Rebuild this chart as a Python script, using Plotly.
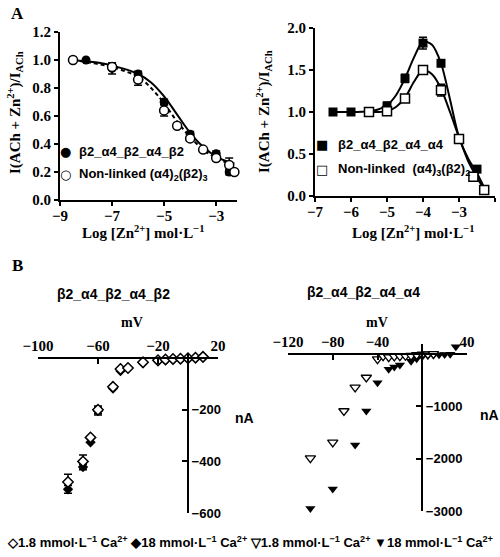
import plotly.graph_objects as go

W, H = 500, 557
SERIF = "Liberation Serif"
SANS = "Liberation Sans"

# ---------------- Panel A (left): concentration-response ----------------
a1_filled_x = [-8, -7, -6, -5, -4, -3, -2.5]
a1_filled_y = [1.00, 0.94, 0.90, 0.70, 0.47, 0.33, 0.20]
a1_filled_err = [0, 0.04, 0.02, 0.02, 0.02, 0.02, 0.02]
a1_open_x = [-8.5, -7, -6, -5, -4.5, -4, -3.5, -3, -2.5, -2.3]
a1_open_y = [1.00, 0.95, 0.86, 0.64, 0.53, 0.44, 0.36, 0.30, 0.25, 0.20]
a1_open_err = [0, 0.02, 0.04, 0.04, 0, 0.02, 0, 0.02, 0.05, 0]
a1_fit_x = [-8.5, -8, -7.5, -7, -6.5, -6, -5.5, -5, -4.5, -4, -3.5, -3, -2.5, -2.3]
a1_fit_filled = [1.0, 0.99, 0.98, 0.96, 0.935, 0.90, 0.84, 0.74, 0.61, 0.48, 0.38, 0.31, 0.27, 0.26]
a1_fit_open = [1.0, 0.985, 0.97, 0.95, 0.92, 0.88, 0.80, 0.69, 0.56, 0.45, 0.36, 0.30, 0.26, 0.25]

# ---------------- Panel A (right) ----------------
a2_filled_x = [-6.5, -6, -5, -4.5, -4, -3.5, -3, -2.5]
a2_filled_y = [1.00, 1.00, 1.07, 1.40, 1.82, 1.58, 0.68, 0.32]
a2_filled_err = [0, 0, 0.05, 0.05, 0.07, 0.03, 0.03, 0.02]
a2_open_x = [-5.5, -5, -4.5, -4, -3.5, -3, -2.6, -2.3]
a2_open_y = [1.00, 1.01, 1.16, 1.50, 1.26, 0.68, 0.23, 0.07]
a2_open_err = [0, 0, 0, 0.02, 0.07, 0, 0, 0]
a2_fit_filled_x = [-6.5, -6, -5.5, -5.25, -5, -4.75, -4.5, -4.25, -4, -3.75, -3.5, -3.25, -3, -2.75, -2.5, -2.3]
a2_fit_filled = [1.0, 1.0, 1.01, 1.03, 1.08, 1.20, 1.40, 1.65, 1.84, 1.80, 1.58, 1.15, 0.70, 0.45, 0.27, 0.10]
a2_fit_open_x = [-5.5, -5.25, -5, -4.75, -4.5, -4.25, -4, -3.75, -3.5, -3.25, -3, -2.75, -2.5, -2.3]
a2_fit_open = [1.0, 1.0, 1.01, 1.06, 1.17, 1.36, 1.50, 1.45, 1.28, 1.00, 0.70, 0.42, 0.22, 0.08]

# ---------------- Panel B (left): I-V ----------------
b1_open_x = [-80, -70, -65, -60, -50, -45, -40, -30, -20, -15, -10, -5, 0, 5, 10]
b1_open_y = [-480, -400, -307, -200, -111, -42, -38, -16, -8, -5, -3, -2, 0, 2, 5]
b1_open_err = [30, 25, 0, 15, 0, 0, 0, 0, 0, 0, 0, 0, 0, 0, 0]
b1_filled_x = [-80, -70, -65, -60, -50, -45, -30, -20, -15, -10, -5, 0, 5, 10]
b1_filled_y = [-508, -422, -326, -205, -118, -50, -20, -12, -8, -5, -3, 0, 2, 5]
b1_filled_err = [15, 10, 0, 15, 0, 0, 0, 0, 0, 0, 0, 0, 0, 0]

# ---------------- Panel B (right) ----------------
b2_open_x = [-100, -80, -70, -60, -50, -40, -35, -30, -25, -20, -15, -10, -5, 0, 5, 10]
b2_open_y = [-1990, -1690, -1090, -640, -450, -100, -40, -60, -45, -40, -35, -30, -20, -10, -5, 0]
b2_filled_x = [-100, -80, -60, -50, -40, -30, -25, -20, -10, -5, 0, 5, 10, 15, 20, 25, 30, 40]
b2_filled_y = [-2950, -2580, -1740, -1090, -550, -290, -250, -210, -140, -90, -50, -30, -20, -15, -10, -5, 140, 215]

# tick values
a1_xticks = [-9, -7, -5, -3]
a1_yticks = [0.0, 0.2, 0.4, 0.6, 0.8, 1.0, 1.2]
a2_xticks = [-7, -6, -5, -4, -3, -2]
a2_yticks = [0.0, 0.5, 1.0, 1.5, 2.0]
b1_xticks = [-100, -60, -20, 20]
b1_yticks = [-200, -400, -600]
b2_xticks = [-120, -80, -40, 40]
b2_yticks = [-1000, -2000, -3000]

# legend labels
a1_names = ["β2_α4_β2_α4_β2", "Non-linked (α4)<sub>2</sub>(β2)<sub>3</sub>"]
a2_names = ["β2_α4_β2_α4_α4", "Non-linked  (α4)<sub>3</sub>(β2)<sub>2</sub>"]
b_legend = ("◇1.8 mmol·L<sup>−1</sup> Ca<sup>2+</sup> ◆18 mmol·L<sup>−1</sup> Ca<sup>2+</sup> "
            "▽1.8 mmol·L<sup>−1</sup> Ca<sup>2+</sup> ▼18 mmol·L<sup>−1</sup> Ca<sup>2+</sup>")


def px(x):
    return x / W


def py(y):
    return 1 - y / H


def err(vals):
    return dict(type="data", array=vals, visible=True, color="black", thickness=1.5, width=4)


fig = go.Figure()

# A left
fig.add_trace(go.Scatter(x=a1_fit_x, y=a1_fit_filled, mode="lines", line=dict(color="black", width=2, shape="spline"),
                         xaxis="x", yaxis="y", hoverinfo="skip"))
fig.add_trace(go.Scatter(x=a1_fit_x, y=a1_fit_open, mode="lines", line=dict(color="black", width=2, dash="4px,3px", shape="spline"),
                         xaxis="x", yaxis="y", hoverinfo="skip"))
fig.add_trace(go.Scatter(x=a1_filled_x, y=a1_filled_y, mode="markers", error_y=err(a1_filled_err),
                         marker=dict(symbol="circle", size=9, color="black"),
                         xaxis="x", yaxis="y", name=a1_names[0]))
fig.add_trace(go.Scatter(x=a1_open_x, y=a1_open_y, mode="markers", error_y=err(a1_open_err),
                         marker=dict(symbol="circle", size=9, color="white", line=dict(color="black", width=1.5)),
                         xaxis="x", yaxis="y", name=a1_names[1]))

# A right
fig.add_trace(go.Scatter(x=a2_fit_filled_x, y=a2_fit_filled, mode="lines", line=dict(color="black", width=2, shape="spline", smoothing=0.8),
                         xaxis="x2", yaxis="y2", hoverinfo="skip"))
fig.add_trace(go.Scatter(x=a2_fit_open_x, y=a2_fit_open, mode="lines", line=dict(color="black", width=2, shape="spline", smoothing=0.8),
                         xaxis="x2", yaxis="y2", hoverinfo="skip"))
fig.add_trace(go.Scatter(x=a2_filled_x, y=a2_filled_y, mode="markers", error_y=err(a2_filled_err),
                         marker=dict(symbol="square", size=9, color="black"),
                         xaxis="x2", yaxis="y2", name=a2_names[0]))
fig.add_trace(go.Scatter(x=a2_open_x, y=a2_open_y, mode="markers", error_y=err(a2_open_err),
                         marker=dict(symbol="square", size=9, color="white", line=dict(color="black", width=1.5)),
                         xaxis="x2", yaxis="y2", name=a2_names[1]))

# B left
fig.add_trace(go.Scatter(x=b1_filled_x, y=b1_filled_y, mode="markers", error_y=err(b1_filled_err),
                         marker=dict(symbol="diamond", size=8, color="black"),
                         xaxis="x3", yaxis="y3"))
fig.add_trace(go.Scatter(x=b1_open_x, y=b1_open_y, mode="markers", error_y=err(b1_open_err),
                         marker=dict(symbol="diamond", size=8, color="white", line=dict(color="black", width=1.5)),
                         xaxis="x3", yaxis="y3"))

# B right
fig.add_trace(go.Scatter(x=b2_filled_x, y=b2_filled_y, mode="markers",
                         marker=dict(symbol="triangle-down", size=9, color="black"),
                         xaxis="x4", yaxis="y4"))
fig.add_trace(go.Scatter(x=b2_open_x, y=b2_open_y, mode="markers",
                         marker=dict(symbol="triangle-down", size=9, color="white", line=dict(color="black", width=1.3)),
                         xaxis="x4", yaxis="y4"))

for tr in fig.data:
    tr.cliponaxis = False
    tr.showlegend = False

serif_tick = dict(family=SERIF, size=15, color="black", weight="bold")
sans_tick = dict(family=SANS, size=13, color="black", weight="bold")
common = dict(showgrid=False, zeroline=False, showline=True, linecolor="black", linewidth=2,
              ticks="outside", ticklen=4, tickwidth=2, tickcolor="black", automargin=False)

# domains
a1_xd = [px(60), px(237)]
a1_yd = [py(200), py(32)]
a2_xd = [px(315), px(495)]
a2_yd = [py(196), py(28)]
b1_xd = [px(38), px(218)]
b1_yd = [py(513), py(353)]
b2_xd = [px(288), px(467)]
b2_yd = [py(511), py(343.5)]
b1_xr, b1_yr = [-100, 20], [-600, 20]
b2_xr, b2_yr = [-120, 40], [-3000, 200]


def zero_pos(dom, rng):
    return dom[0] + (0 - rng[0]) / (rng[1] - rng[0]) * (dom[1] - dom[0])


fig.update_layout(
    width=W, height=H, margin=dict(l=0, r=0, t=0, b=0, pad=0, autoexpand=False),
    paper_bgcolor="white", plot_bgcolor="white", showlegend=False,
    xaxis=dict(domain=a1_xd, range=[-9, -2.2], tickvals=a1_xticks, anchor="y", tickfont=serif_tick,
               ticklabelstandoff=-3, **common),
    yaxis=dict(domain=a1_yd, range=[0, 1.2], tickvals=a1_yticks, tickformat=".1f", anchor="x", tickfont=serif_tick, **common),
    xaxis2=dict(domain=a2_xd, range=[-7, -2], tickvals=a2_xticks, anchor="y2", tickfont=serif_tick,
                ticklabelstandoff=-3, **common),
    yaxis2=dict(domain=a2_yd, range=[0, 2.0], tickvals=a2_yticks, tickformat=".1f", anchor="x2", tickfont=serif_tick, **common),
    xaxis3=dict(domain=b1_xd, range=b1_xr, tickvals=b1_xticks, anchor="free", side="top",
                position=zero_pos(b1_yd, b1_yr), tickfont=serif_tick,
                **{**common, "ticks": "inside", "ticklen": 5}),
    yaxis3=dict(domain=b1_yd, range=b1_yr, tickvals=b1_yticks, anchor="free", side="right",
                position=zero_pos(b1_xd, b1_xr), tickfont=sans_tick,
                **{**common, "ticks": "inside", "ticklen": 5}),
    xaxis4=dict(domain=b2_xd, range=b2_xr, tickvals=b2_xticks, anchor="free", side="top",
                position=zero_pos(b2_yd, b2_yr), tickfont=serif_tick,
                **{**common, "ticks": "inside", "ticklen": 5}),
    yaxis4=dict(domain=b2_yd, range=b2_yr, tickvals=b2_yticks, anchor="free", side="right",
                position=zero_pos(b2_xd, b2_xr), tickfont=sans_tick,
                **{**common, "ticks": "inside", "ticklen": 5}),
)

ann = []


def add_text(x, y, text, font, angle=0, xanchor="center"):
    ann.append(dict(x=px(x), y=py(y), xref="paper", yref="paper", text=text, showarrow=False,
                    font=font, textangle=angle, xanchor=xanchor, yanchor="middle"))


bold_serif = lambda s: dict(family=SERIF, size=s, color="black", weight="bold")
bold_sans = lambda s: dict(family=SANS, size=s, color="black", weight="bold")
sym_font = dict(family="DejaVu Sans", size=13, color="black")

add_text(17, 13, "A", bold_serif(17))
add_text(17, 265, "B", bold_serif(17))
ytitle = "I(ACh + Zn<sup>2+</sup>)/I<sub>ACh</sub>"
add_text(15, 113, ytitle, bold_serif(15), angle=-90)
add_text(264, 112, ytitle, bold_serif(15), angle=-90)
xtitle = "Log [Zn<sup>2+</sup>] mol·L<sup>−1</sup>"
add_text(143, 232, xtitle, bold_serif(15))
add_text(413, 232, xtitle, bold_serif(15))
add_text(113, 294, "β2_α4_β2_α4_β2", bold_sans(14))
add_text(363, 292, "β2_α4_β2_α4_α4", bold_sans(14))
add_text(132, 322, "mV", bold_serif(14))
add_text(377, 322, "mV", bold_serif(14))
add_text(244, 418, "nA", bold_sans(14))
add_text(489, 415, "nA", bold_sans(14))
add_text(250, 542, b_legend, bold_sans(13))

# in-panel legends (symbol + label)
add_text(65, 151, "●", sym_font)
add_text(77, 151, a1_names[0], bold_sans(13), xanchor="left")
add_text(65, 175, "○", sym_font)
add_text(77, 175, a1_names[1], bold_sans(13), xanchor="left")
add_text(322, 144, "■", sym_font)
add_text(336, 144, a2_names[0], bold_sans(13), xanchor="left")
add_text(322, 169, "□", sym_font)
add_text(336, 169, a2_names[1], bold_sans(13), xanchor="left")
fig.update_layout(annotations=ann)

fig.write_html("out.html", config={"displayModeBar": False},
               post_script="document.body.style.margin='0px';document.body.style.overflow='hidden';")
